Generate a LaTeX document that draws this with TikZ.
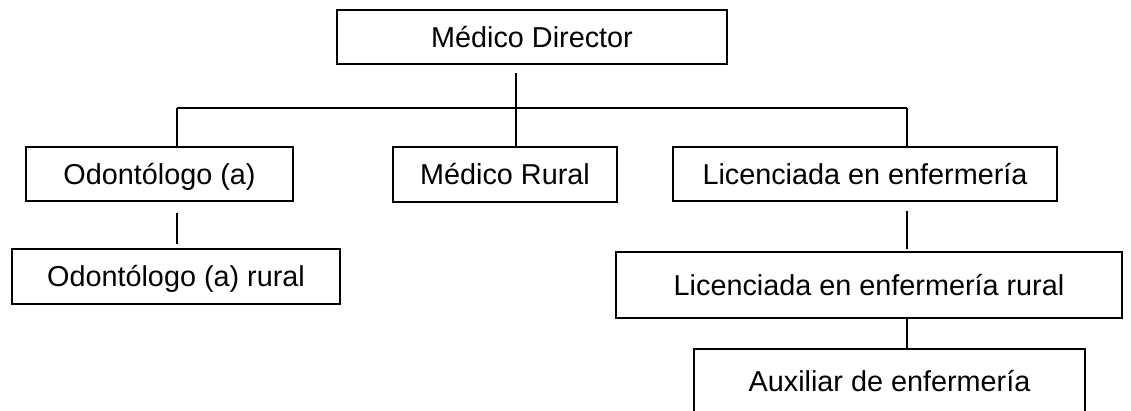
\documentclass[tikz,border=0pt]{standalone}
\usepackage{fontspec}
\setmainfont{Liberation Sans}

\begin{document}
\begin{tikzpicture}[x=1pt, y=-1pt, box/.style = {draw, line width=1.8pt, inner sep=0pt, text height=26pt, text depth=5.4pt, font=\fontsize{28.8}{34}\selectfont}, link/.style = {line width=1.8pt}]

    % frame
    \useasboundingbox (0,0) rectangle (1131,411);
    \clip (0,0) rectangle (1131,411);

    % boxes
    \node[box, minimum width=390pt, minimum height=54pt] (dir) at (532,37) {Médico Director};
    \node[box, minimum width=267pt, minimum height=54pt] (odo) at (159.5,174) {Odontólogo (a)};
    \node[box, minimum width=224pt, minimum height=55pt] (rur) at (505,174.5) {Médico Rural};
    \node[box, minimum width=384pt, minimum height=54pt] (lic) at (865,174) {Licenciada en enfermería};
    \node[box, minimum width=328pt, minimum height=55pt] (odr) at (176,276.5) {Odontólogo (a) rural};
    \node[box, minimum width=506pt, minimum height=66pt] (lir) at (869,285) {Licenciada en enfermería rural};
    \node[box, minimum width=391pt, minimum height=64pt] (aux) at (889.5,381) {Auxiliar de enfermería};

    % bus
    \coordinate (busL) at (177,108);
    \coordinate (busM) at (516,108);
    \coordinate (busR) at (907,108);
    \draw[link] (busL) -- (busR);

    % links
    \draw[link, shorten <=8pt] (busM |- dir.south) -- (busM);
    \draw[link] (busL) -- (busL |- odo.north);
    \draw[link] (busM) -- (busM |- rur.north);
    \draw[link] (busR) -- (busR |- lic.north);
    \draw[link, shorten <=11pt, shorten >=4pt] (busL |- odo.south) -- (busL |- odr.north);
    \draw[link, shorten <=9pt, shorten >=2pt] (busR |- lic.south) -- (busR |- lir.north);
    \draw[link] (busR |- lir.south) -- (busR |- aux.north);

\end{tikzpicture}
\end{document}
